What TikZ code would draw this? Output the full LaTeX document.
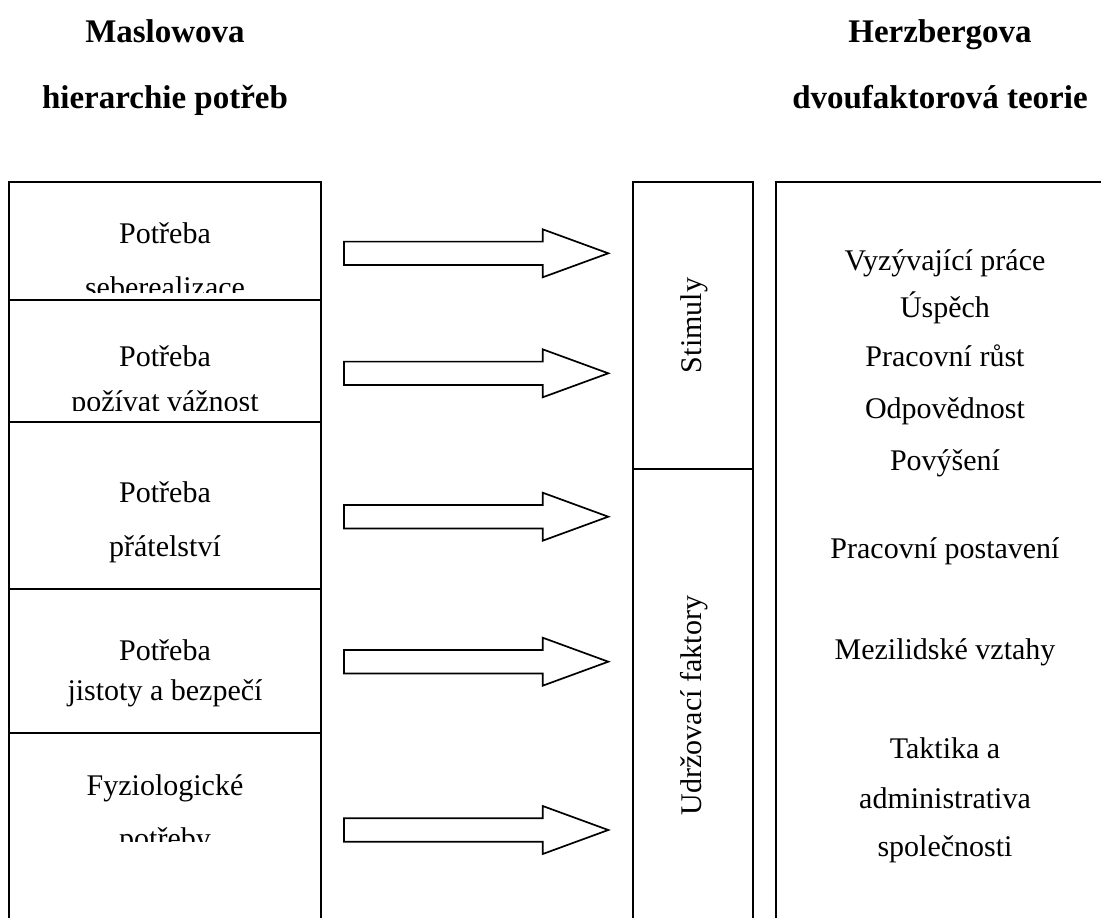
\documentclass[tikz,border=0pt]{standalone}
\usepackage{fontspec}
\setmainfont{Liberation Serif}
\begin{document}
\begin{tikzpicture}[x=1pt,y=-1pt,
  frame/.style={line width=2pt},
  blockarrow/.style={line width=1.7pt, line join=miter},
  txt/.style={inner sep=0pt, anchor=base, font=\fontsize{30}{36}\selectfont},
  head/.style={inner sep=0pt, anchor=base, font=\fontsize{33}{40}\selectfont\bfseries}]
\clip (0,0) rectangle (1101,918);

% headings
\node[head] (m1) at (165,42) {Maslowova};
\node[head] (m2) at (165,108) {hierarchie potřeb};
\node[head] (h1) at (940,42) {Herzbergova};
\node[head] (h2) at (940,108) {dvoufaktorová teorie};

% Maslow column
\draw[frame] (9,930) -- (9,181.7) -- (320.7,181.7) -- (320.7,930);
\foreach \yy in {300,421.7,589.3,733} \draw[frame] (9,\yy) -- (320.7,\yy);

\begin{scope}
  \clip (9,181.7) rectangle (320.7,292);
  \node[txt] (a1) at (165,243.3) {Potřeba};
  \node[txt] (a2) at (165,297.5) {seberealizace};
\end{scope}
\begin{scope}
  \clip (9,300) rectangle (320.7,410);
  \node[txt] (b1) at (165,366) {Potřeba};
  \node[txt] (b2) at (165,411.5) {požívat vážnost};
\end{scope}
\node[txt] (c1) at (165,502) {Potřeba};
\node[txt] (c2) at (165,556.7) {přátelství};
\node[txt] (d1) at (165,660) {Potřeba};
\node[txt] (d2) at (165,700) {jistoty a bezpečí};
\begin{scope}
  \clip (9,733) rectangle (320.7,841.7);
  \node[txt] (e1) at (165,795) {Fyziologické};
  \node[txt] (e2) at (165,848) {potřeby};
\end{scope}

% block arrows
\foreach \yy in {253.3,373.3,516.7,661.7,830}
  \draw[blockarrow] (344,\yy-11.7) -- (542.7,\yy-11.7) -- (542.7,\yy-24)
    -- (608.3,\yy) -- (542.7,\yy+24) -- (542.7,\yy+11.7) -- (344,\yy+11.7) -- cycle;

% Herzberg: factor column
\draw[frame] (632.7,930) -- (632.7,181.7) -- (752.7,181.7) -- (752.7,930);
\draw[frame] (632.7,469.3) -- (752.7,469.3);
\node[txt, rotate=90] (st) at (701.7,325.5) {Stimuly};
\node[txt, rotate=90] (ud) at (701.7,705.5) {Udržovací faktory};

% Herzberg: factor list
\draw[frame] (776,930) -- (776,181.7) -- (1110,181.7);
\node[txt] (r1) at (945,270) {Vyzývající práce};
\node[txt] (r2) at (945,317) {Úspěch};
\node[txt] (r3) at (945,366) {Pracovní růst};
\node[txt] (r4) at (945,418) {Odpovědnost};
\node[txt] (r5) at (945,470) {Povýšení};
\node[txt] (r6) at (945,558) {Pracovní postavení};
\node[txt] (r7) at (945,659) {Mezilidské vztahy};
\node[txt] (r8) at (945,758.3) {Taktika a};
\node[txt] (r9) at (945,808.3) {administrativa};
\node[txt] (r10) at (945,856.7) {společnosti};
\end{tikzpicture}
\end{document}
